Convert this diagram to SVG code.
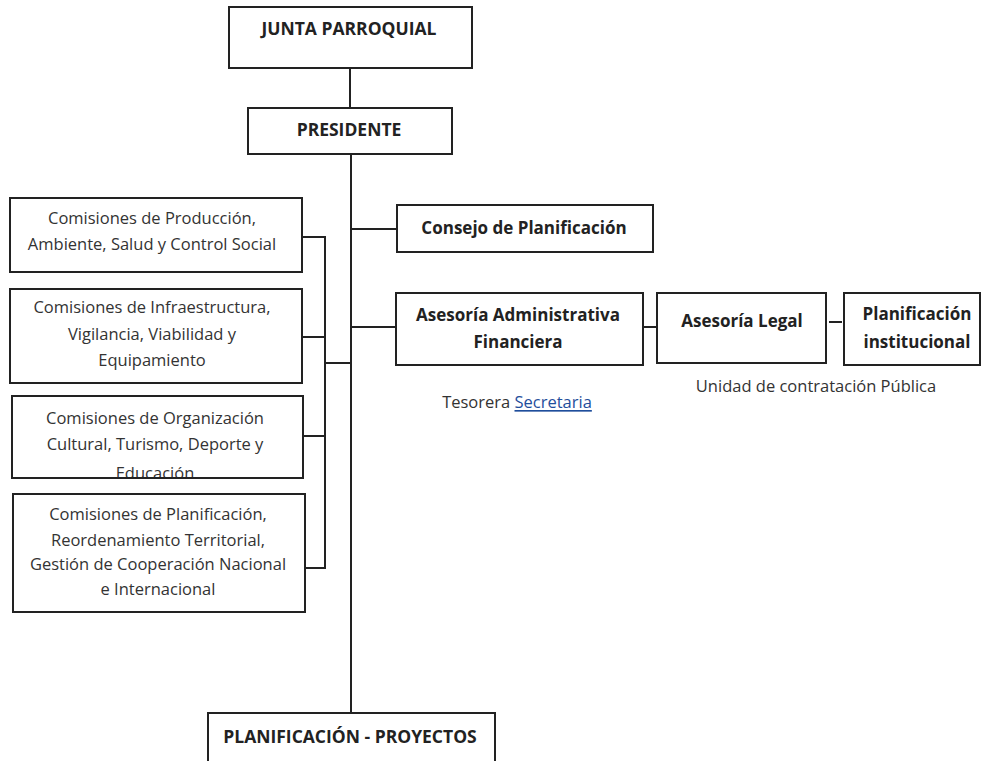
<svg xmlns="http://www.w3.org/2000/svg" width="982" height="761" viewBox="0 0 982 761">
<style>
.box{fill:#fff;stroke:#222;stroke-width:2}
.ln{stroke:#222;stroke-width:2;fill:none}
.t{font-family:"Open Sans",Lato,sans-serif;font-size:16.5px;fill:#333;text-anchor:middle;dominant-baseline:central}
.b{font-family:"Open Sans",Lato,sans-serif;font-size:17.5px;font-weight:bold;fill:#222;text-anchor:middle;dominant-baseline:central}
.m{font-family:"Open Sans",Lato,sans-serif;font-size:17px;font-weight:bold;fill:#222;text-anchor:middle;dominant-baseline:central}
</style>
<defs>
<clipPath id="c3"><rect x="12" y="396" width="291" height="81"/></clipPath>
</defs>
<rect width="982" height="761" fill="#fff"/>
<g id="connectors">
<path class="ln" d="M350 68V108"/>
<path class="ln" d="M351 154V713"/>
<path class="ln" d="M351 229H397"/>
<path class="ln" d="M351 327H396"/>
<path class="ln" d="M643 327H657"/>
<path class="ln" d="M829 322H842"/>
<path class="ln" d="M302 237H325V568H305"/>
<path class="ln" d="M302 337H325"/>
<path class="ln" d="M303 436H325"/>
<path class="ln" d="M325 363H351"/>
</g>
<g id="junta"><rect class="box" x="229" y="7" width="243" height="61"/><text class="b" x="349" y="28">JUNTA PARROQUIAL</text></g>
<g id="presidente"><rect class="box" x="248" y="108" width="204" height="46"/><text class="b" x="349" y="129">PRESIDENTE</text></g>
<g id="com1"><rect class="box" x="10" y="198" width="292" height="74"/><text class="t" x="152" y="217">Comisiones de Producción,</text><text class="t" x="152" y="243">Ambiente, Salud y Control Social</text></g>
<g id="com2"><rect class="box" x="10" y="289" width="292" height="94"/><text class="t" x="152" y="306">Comisiones de Infraestructura,</text><text class="t" x="152" y="333">Vigilancia, Viabilidad y</text><text class="t" x="152" y="359">Equipamiento</text></g>
<g id="com3"><rect class="box" x="12" y="396" width="291" height="82"/><g clip-path="url(#c3)"><text class="t" x="155" y="417">Comisiones de Organización</text><text class="t" x="155" y="443">Cultural, Turismo, Deporte y</text><text class="t" x="155" y="472">Educación</text></g></g>
<g id="com4"><rect class="box" x="13" y="494" width="292" height="118"/><text class="t" x="158" y="513">Comisiones de Planificación,</text><text class="t" x="158" y="539">Reordenamiento Territorial,</text><text class="t" x="158" y="563">Gestión de Cooperación Nacional</text><text class="t" x="158" y="588">e Internacional</text></g>
<g id="consejo"><rect class="box" x="397" y="205" width="256" height="47"/><text class="m" x="524" y="227">Consejo  de Planificación</text></g>
<g id="asesoria-admin"><rect class="box" x="396" y="293" width="247" height="72"/><text class="m" x="518" y="314">Asesoría Administrativa</text><text class="m" x="518" y="341">Financiera</text></g>
<g id="tesorera"><text class="t" x="517" y="401">Tesorera <tspan fill="#1f4e9c" text-decoration="underline">Secretaria</tspan></text></g>
<g id="asesoria-legal"><rect class="box" x="657" y="293" width="169" height="70"/><text class="m" x="742" y="320">Asesoría Legal</text></g>
<g id="planif-inst"><rect class="box" x="844" y="293" width="136" height="72"/><text class="m" x="917" y="313">Planificación</text><text class="m" x="917" y="341">institucional</text></g>
<g id="unidad"><text class="t" x="816" y="385">Unidad de contratación Pública</text></g>
<g id="planif-proy"><rect class="box" x="208" y="713" width="287" height="60"/><text class="b" x="350" y="736">PLANIFICACIÓN  - PROYECTOS</text></g>
</svg>
